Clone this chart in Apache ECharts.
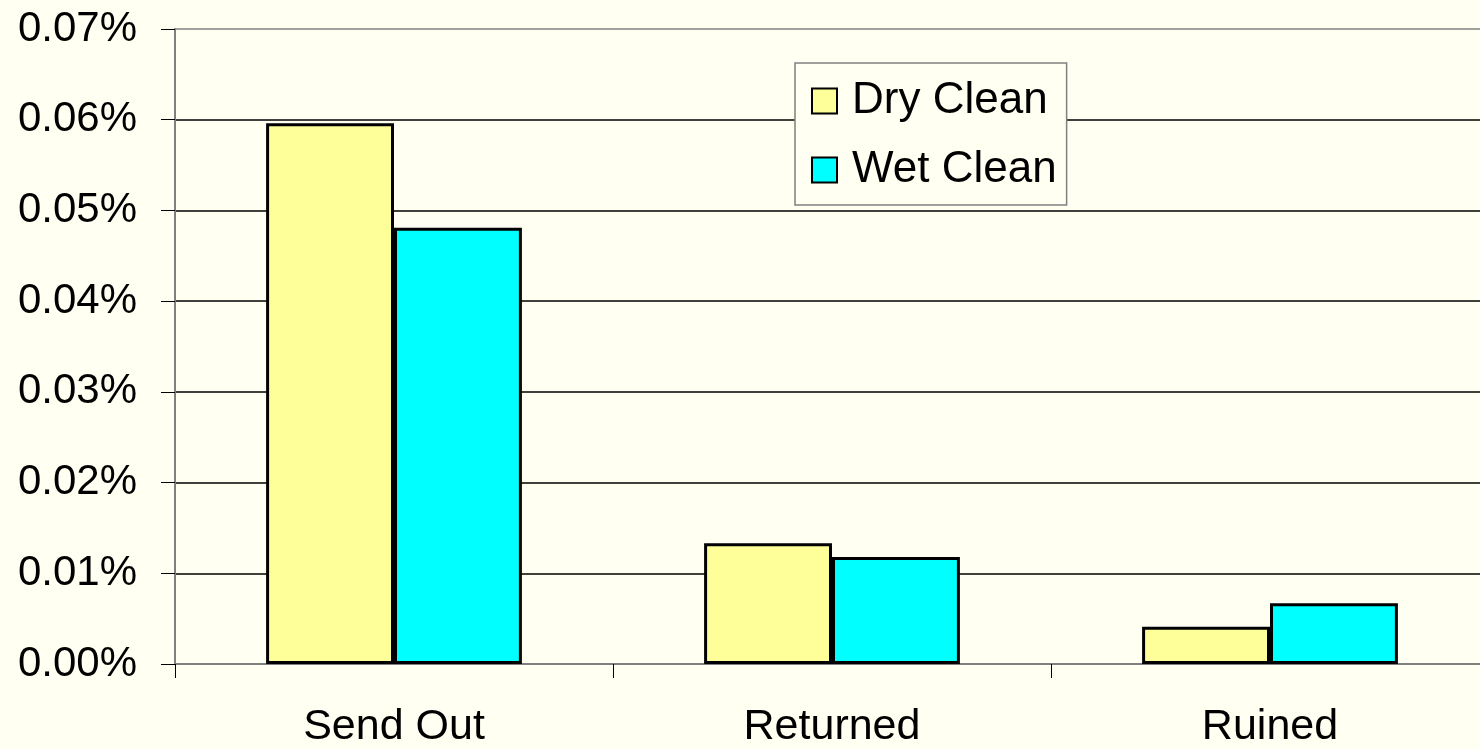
<!DOCTYPE html>
<html>
<head>
<meta charset="utf-8">
<script src="https://cdn.jsdelivr.net/npm/echarts@6/dist/echarts.min.js"></script>
<style>
html,body{margin:0;padding:0;background:#FFFFF2;overflow:hidden;width:1480px;height:749px;}
#chart{width:1489px;height:749px;}
</style>
</head>
<body>
<div id="chart"></div>
<script>
var categories = ['Send Out', 'Returned', 'Ruined'];
var dryClean = [0.0596, 0.0133, 0.0041];
var wetClean = [0.0481, 0.0118, 0.0067];
var seriesNames = ['Dry Clean', 'Wet Clean'];

var FONT = '"Liberation Sans", Arial, sans-serif';
var chart = echarts.init(document.getElementById('chart'));
chart.setOption({
  backgroundColor: '#FFFFF2',
  animation: false,
  grid: { left: 175, top: 29, bottom: 84, right: 0, show: false },
  legend: {
    orient: 'vertical',
    left: 795, top: 63,
    padding: [16, 10, 13, 16],
    itemGap: 25,
    itemWidth: 25, itemHeight: 25,
    backgroundColor: '#FFFFF2',
    borderColor: '#808080', borderWidth: 1.5,
    icon: 'rect',
    itemStyle: { borderColor: '#000', borderWidth: 2 },
    textStyle: { fontFamily: FONT, fontSize: 44, color: '#000', padding: [0, 0, 0, 10] },
    data: seriesNames
  },
  xAxis: {
    type: 'category',
    data: categories,
    axisLine: { lineStyle: { color: '#808080', width: 2 } },
    axisTick: { show: true, length: 14, lineStyle: { color: '#000', width: 1 } },
    axisLabel: { fontFamily: FONT, fontSize: 43, color: '#000', margin: 42 }
  },
  yAxis: {
    type: 'value',
    min: 0, max: 0.07, interval: 0.01,
    axisLine: { show: true, lineStyle: { color: '#808080', width: 2 } },
    axisTick: { show: true, length: 14, lineStyle: { color: '#000', width: 1 } },
    splitLine: { lineStyle: { color: ['#000','#000','#000','#000','#000','#000','#000','#808080'], width: 1.5 } },
    axisLabel: {
      fontFamily: FONT, fontSize: 42, color: '#000', margin: 38,
      formatter: function (v) { return v.toFixed(2) + '%'; }
    }
  },
  series: [
    {
      name: seriesNames[0], type: 'bar', data: dryClean,
      barWidth: '29.2%', barGap: '0%',
      itemStyle: { color: '#FFFF99', borderColor: '#000', borderWidth: 3 }
    },
    {
      name: seriesNames[1], type: 'bar', data: wetClean,
      barWidth: '29.2%', barGap: '0%',
      itemStyle: { color: '#00FFFF', borderColor: '#000', borderWidth: 3 }
    }
  ]
});
</script>
</body>
</html>
